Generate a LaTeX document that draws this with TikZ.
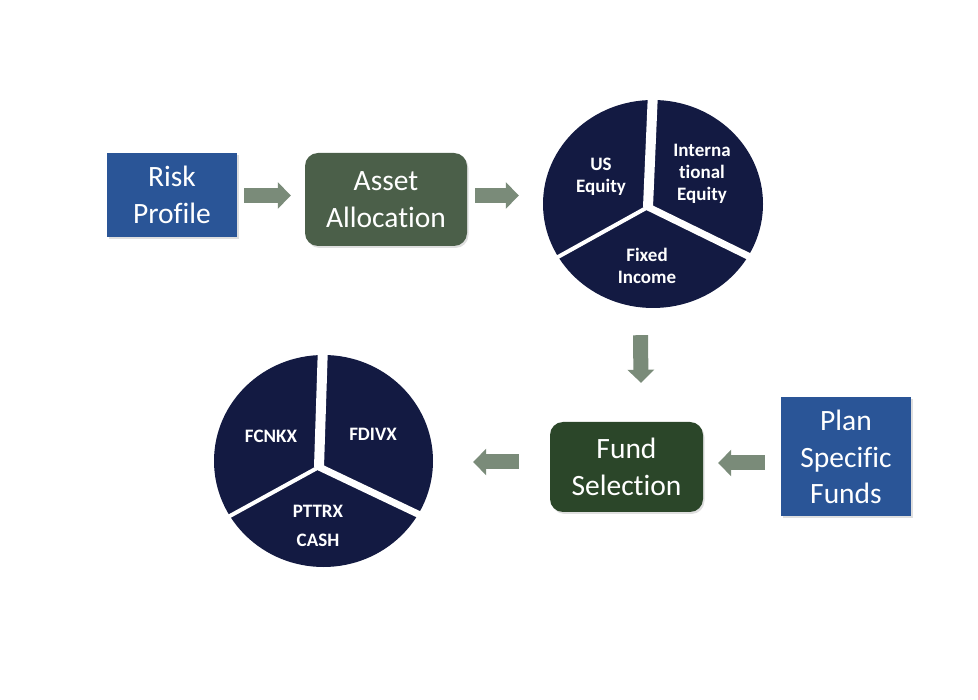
\documentclass[tikz,border=0pt]{standalone}
\usepackage{fontspec}
\setmainfont{Carlito}[Ligatures={NoCommon,NoContextual}]
\usetikzlibrary{arrows.meta,shapes.geometric,calc,shadows}
\definecolor{boxblue}{HTML}{2A5597}
\definecolor{assetgreen}{HTML}{4B5F49}
\definecolor{fundgreen}{HTML}{2B4629}
\definecolor{pienavy}{HTML}{131A42}
\definecolor{arrowgray}{HTML}{7A8B79}
\tikzset{
  boxtext/.style={text=white,font=\fontsize{29.5}{36.5}\selectfont,align=center,inner sep=0pt},
  bluebox/.style={boxtext,fill=boxblue,rectangle,drop shadow={shadow xshift=1.5pt,shadow yshift=-2pt,opacity=.25}},
  greenbox/.style={boxtext,rectangle,rounded corners=13pt,drop shadow={shadow xshift=1.5pt,shadow yshift=-2pt,opacity=.25}},
  pie/.style={ellipse,fill=pienavy,inner sep=0pt},
  pielabel/.style={text=white,font=\bfseries\fontsize{19}{22}\selectfont,align=center,inner sep=0pt},
  gap/.style={draw=white},
  blockarrow/.style={draw=arrowgray,line width=15pt,-{Triangle[length=13pt,width=26pt,fill=arrowgray]}},
}
\begin{document}
\begin{tikzpicture}[x=1pt,y=-1pt]
\useasboundingbox (0,0) rectangle (978,700);
% top row
\node[bluebox,minimum width=130pt,minimum height=84pt] (risk) at (172,195) {Risk\\Profile};
\node[greenbox,fill=assetgreen,minimum width=162pt,minimum height=93pt] (asset) at (386,199.5) {Asset\\Allocation};
\node[pie,minimum width=220pt,minimum height=208pt] (pie1) at (653,204) {};
\coordinate (c1) at (648,207);
\draw[gap,line width=10pt] (c1) -- (653,92);
\draw[gap,line width=4pt] (c1) -- ($(c1)+(-118,65.5)$);
\draw[gap,line width=7pt] (c1) -- ($(c1)+(128,62.7)$);
\node[pielabel] (useq) at (601,176.5) {US\\Equity};
\node[pielabel] (intl) at (702,174) {Interna\\tional\\Equity};
\node[pielabel] (fixed) at (647,266) {Fixed\\Income};
% bottom row
\node[greenbox,fill=fundgreen,minimum width=153pt,minimum height=90pt] (fund) at (626.5,467) {Fund\\Selection};
\node[bluebox,minimum width=130pt,minimum height=119pt] (plan) at (846,457) {Plan\\Specific\\Funds};
\node[pie,minimum width=219pt,minimum height=212pt] (pie2) at (323.5,461) {};
\coordinate (c2) at (319,467);
\draw[gap,line width=10pt] (c2) -- (323,345);
\draw[gap,line width=4pt] (c2) -- ($(c2)+(-127,69.8)$);
\draw[gap,line width=7pt] (c2) -- ($(c2)+(130,61.8)$);
\node[pielabel] (fcnkx) at (271,436) {FCNKX};
\node[pielabel] (fdivx) at (373,434) {FDIVX};
\node[pielabel] (pttrx) at (318,511) {PTTRX};
\node[pielabel] (cash) at (318,540) {CASH};
% arrows
\draw[blockarrow] ($(risk.east)+(7,0.5)$) -- ($(asset.west)+(-14,-4)$);
\draw[blockarrow] ($(asset.east)+(8,-4)$) -- ($(pie1.west)+(-24,-8.5)$);
\draw[blockarrow] ($(pie1.south)+(-12.5,27)$) -- ($(fund.north)+(14.5,-39)$);
\draw[blockarrow] ($(plan.west)+(-16,6)$) -- ($(fund.east)+(15,-4)$);
\draw[blockarrow] ($(fund.west)+(-31,-5)$) -- ($(pie2.east)+(40,1)$);
\end{tikzpicture}
\end{document}
